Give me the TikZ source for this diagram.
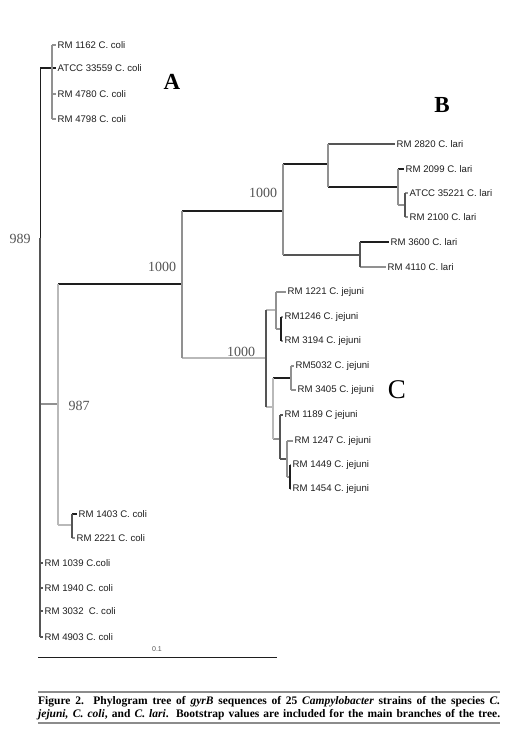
\documentclass[tikz,border=0pt]{standalone}
\usepackage{fontspec}
\setmainfont{Liberation Serif}
\setsansfont{Liberation Sans}
\usetikzlibrary{calc}
\definecolor{ink}{RGB}{30,30,30}
\definecolor{slate}{RGB}{85,85,85}
\definecolor{ash}{RGB}{145,145,145}
\definecolor{mist}{RGB}{185,185,185}
\definecolor{rulegray}{RGB}{140,140,140}
\tikzset{
  leaf/.style={anchor=west,inner sep=1.5pt,font=\sffamily\fontsize{9.6}{10}\selectfont,text=ink},
  boot/.style={font=\fontsize{14}{14}\selectfont,text=slate},
  clade/.style={font=\bfseries\fontsize{23}{23}\selectfont},
  hbr/.style={draw=#1,line width=1.2pt},
  hbr/.default=ink,
  vbr/.style={draw=#1,line width=1.6pt},
  vbr/.default=ash,
  capline/.style={anchor=west,inner sep=0pt,font=\bfseries\fontsize{11.5}{12}\selectfont},
}

\begin{document}
\begin{tikzpicture}[x=1pt,y=-1pt]
  \fill[white] (0,0) rectangle (532,737);
  \useasboundingbox (0,0) rectangle (532,737);
  \foreach \n/\x/\y/\t in {l1162/56/45/RM 1162 C. coli,lATcoli/56/68/ATCC 33559 C. coli,
      l4780/56/94/RM 4780 C. coli,l4798/56/119/RM 4798 C. coli,
      l2820/395/144/RM 2820 C. lari,l2099/404/169/RM 2099 C. lari,lATlari/408/193/ATCC 35221 C. lari,
      l2100/408/217/RM 2100 C. lari,l3600/389/242/RM 3600 C. lari,l4110/386/267/RM 4110 C. lari,
      l1221/286/292/RM 1221 C. jejuni,l1246/283/317/RM1246 C. jejuni,l3194/283/341/RM 3194 C. jejuni,
      l5032/294/366/RM5032 C. jejuni,l3405/296/390/RM 3405 C. jejuni,l1189/283/415/RM 1189 C jejuni,
      l1247/293/441/RM 1247 C. jejuni,l1449/291/465/RM 1449 C. jejuni,l1454/291/489/RM 1454 C. jejuni,
      l1403/77/514/RM 1403 C. coli,l2221/75/538/RM 2221 C. coli,
      l1039/43/563/RM 1039 C.coli,l1940/43/588/RM 1940 C. coli,l3032/43/611/RM 3032 \ C. coli,
      l4903/43/637/RM 4903 C. coli}
    \node[leaf] (\n) at (\x,\y) {\t};
  \foreach \n/\x/\y in {nRoot/40/238,nA/52/68,n987/58/404,nA2/72/525,n1000/182/284,
      nB/283/211,nB1/328/164,nB2/398/187,nB3/405/205,nB4/360/255,
      nC/266/358,nC1/276/310,nC1a/281/329,nC2/273/407,nC3/291/378,nC4/280/439,nC5/287/459,nC6/290/477}
    \coordinate (\n) at (\x,\y);
  % branches
  \foreach \p/\c/\col in {nRoot/nA/ink,nRoot/n987/ash,nRoot/l1039.west/slate,nRoot/l1940.west/slate,
      nRoot/l3032.west/slate,nRoot/l4903.west/slate,
      nA/l1162.west/ash,nA/lATcoli.west/ink,nA/l4780.west/ash,nA/l4798.west/ash,
      n987/n1000/ink,n987/nA2/mist,nA2/l1403.west/ink,nA2/l2221.west/ash,
      n1000/nB/ink,n1000/nC/mist,nB/nB1/ink,nB/nB4/slate,
      nB1/l2820.west/slate,nB1/nB2/ink,nB2/l2099.west/ink,nB2/nB3/ash,
      nB3/lATlari.west/ash,nB3/l2100.west/ash,nB4/l3600.west/ink,nB4/l4110.west/ash,
      nC/nC1/mist,nC/nC2/mist,nC1/l1221.west/ash,nC1/nC1a/ash,nC1a/l1246.west/ash,nC1a/l3194.west/ash,
      nC2/nC3/ink,nC2/nC4/ash,nC3/l5032.west/ash,nC3/l3405.west/ash,
      nC4/l1189.west/slate,nC4/nC5/slate,nC5/l1247.west/ash,nC5/nC6/ash,
      nC6/l1449.west/ash,nC6/l1454.west/ash}
    \draw[hbr=\col] (\c -| \p) -- (\c);
  \foreach \p/\a/\b/\col in {nA/l1162.west/l4798.west/ash,n987/n1000/nA2/mist,nA2/l1403.west/l2221.west/slate,
      n1000/nB/nC/ash,nB/nB1/nB4/ash,nB1/l2820.west/nB2/ash,nB2/l2099.west/nB3/ash,
      nB3/lATlari.west/l2100.west/slate,nB4/l3600.west/l4110.west/slate,
      nC/nC1/nC2/slate,nC1/l1221.west/nC1a/ash,nC1a/l1246.west/l3194.west/ink,
      nC2/nC3/nC4/mist,nC3/l5032.west/l3405.west/ash,nC4/l1189.west/nC5/slate,
      nC5/l1247.west/nC6/ash,nC6/l1449.west/l1454.west/ink}
    \draw[vbr=\col] (\p |- \a) -- (\p |- \b);
  \draw[vbr=ink,line width=0.8pt] (nRoot |- nA) -- (nRoot);
  \draw[vbr=slate,line width=2pt] (nRoot) -- (nRoot |- l4903.west);
  % bootstrap values and clades
  \node[boot] (b989) at (20,239) {989};
  \node[boot] (b987) at (79,406) {987};
  \node[boot] (b1000) at (162,267) {1000};
  \node[boot] (bB) at (263,193) {1000};
  \node[boot] (bC) at (241,352) {1000};
  \node[clade] (cA) at (172,82) {A};
  \node[clade] (cB) at (442,105) {B};
  \node[font=\fontsize{27}{27}\selectfont] (cC) at (397,390) {C};
  % scale and caption
  \coordinate (sL) at (38,657);
  \coordinate (sR) at (277,657);
  \draw[ink,line width=0.8pt] (sL) -- (sR);
  \node[font=\sffamily\fontsize{7}{7}\selectfont,text=slate] (sc) at (157,649) {0.1};
  \draw[rulegray,line width=1.5pt] (38,692) -- (500,692);
  \draw[rulegray,line width=1.5pt] (38,723) -- (500,723);
  \node[capline] (cap1) at (38,702) {\makebox[462pt][s]{Figure 2. Phylogram tree of \textit{gyrB} sequences of 25 \textit{Campylobacter} strains of the species \textit{C.}}};
  \node[capline] (cap2) at (38,714.5) {\makebox[462pt][s]{\textit{jejuni, C. coli}, and \textit{C. lari}. Bootstrap values are included for the main branches of the tree.}};
\end{tikzpicture}
\end{document}
